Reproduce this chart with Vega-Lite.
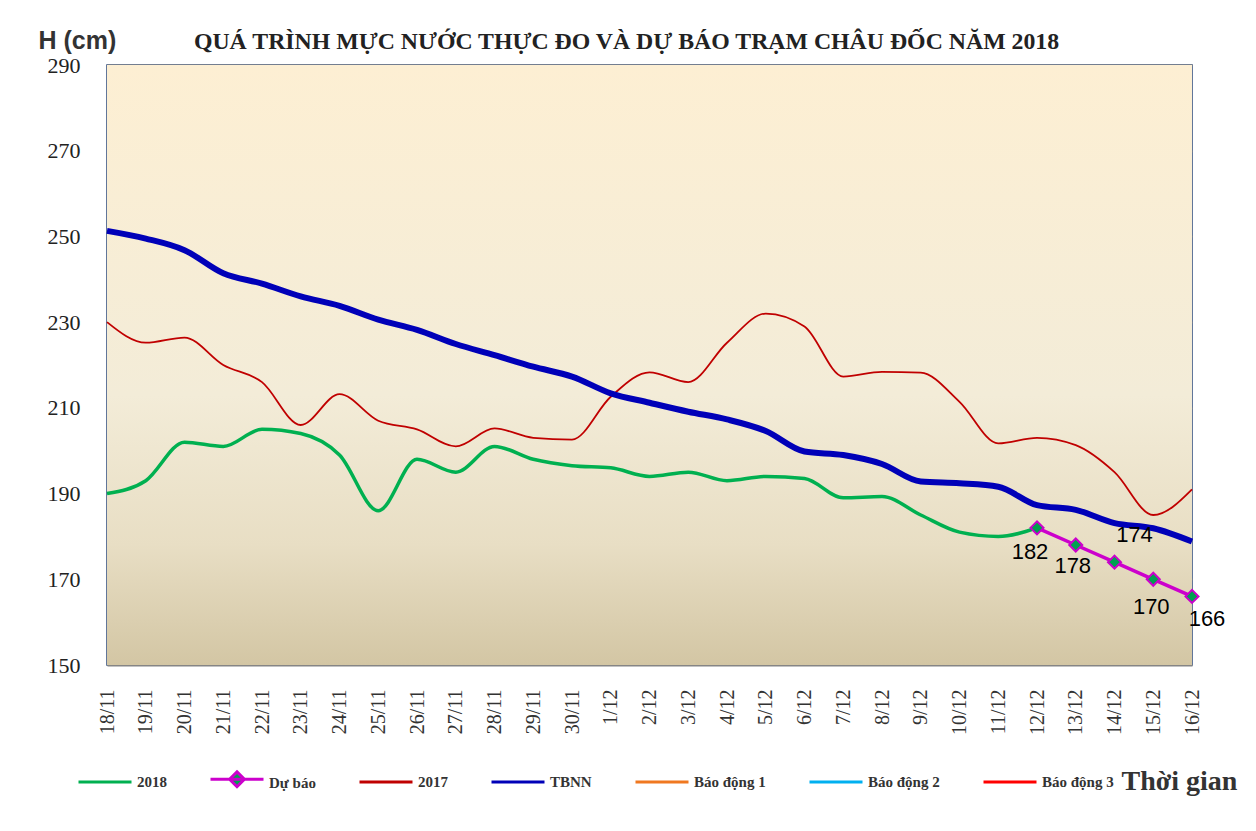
{
  "$schema": "https://vega.github.io/schema/vega-lite/v6.json",
  "width": 1085,
  "height": 600,
  "autosize": {"type": "none"},
  "padding": {"left": 107, "top": 65, "right": 64, "bottom": 166},
  "background": "#ffffff",
  "title": {
    "text": "QUÁ TRÌNH MỰC NƯỚC THỰC ĐO VÀ DỰ BÁO TRẠM CHÂU ĐỐC NĂM 2018",
    "font": "Liberation Serif",
    "fontSize": 23.8,
    "fontWeight": "bold",
    "color": "#222222",
    "anchor": "middle",
    "frame": "group",
    "dx": -23,
    "baseline": "alphabetic",
    "offset": -45
  },
  "config": {
    "view": {"stroke": "#2E4A7A", "strokeWidth": 1.5},
    "axis": {"domain": false, "ticks": false}
  },
  "datasets": {
    "main": [
      {"date": "18/11", "series": "2018", "value": 190},
      {"date": "19/11", "series": "2018", "value": 193},
      {"date": "20/11", "series": "2018", "value": 202},
      {"date": "21/11", "series": "2018", "value": 201},
      {"date": "22/11", "series": "2018", "value": 205},
      {"date": "23/11", "series": "2018", "value": 204},
      {"date": "24/11", "series": "2018", "value": 199},
      {"date": "25/11", "series": "2018", "value": 186},
      {"date": "26/11", "series": "2018", "value": 198},
      {"date": "27/11", "series": "2018", "value": 195},
      {"date": "28/11", "series": "2018", "value": 201},
      {"date": "29/11", "series": "2018", "value": 198},
      {"date": "30/11", "series": "2018", "value": 196.5},
      {"date": "1/12", "series": "2018", "value": 196},
      {"date": "2/12", "series": "2018", "value": 194},
      {"date": "3/12", "series": "2018", "value": 195},
      {"date": "4/12", "series": "2018", "value": 193},
      {"date": "5/12", "series": "2018", "value": 194},
      {"date": "6/12", "series": "2018", "value": 193.5},
      {"date": "7/12", "series": "2018", "value": 189},
      {"date": "8/12", "series": "2018", "value": 189.3},
      {"date": "9/12", "series": "2018", "value": 185},
      {"date": "10/12", "series": "2018", "value": 181},
      {"date": "11/12", "series": "2018", "value": 180},
      {"date": "12/12", "series": "2018", "value": 182},
      {"date": "12/12", "series": "Dự báo", "value": 182},
      {"date": "13/12", "series": "Dự báo", "value": 178},
      {"date": "14/12", "series": "Dự báo", "value": 174},
      {"date": "15/12", "series": "Dự báo", "value": 170},
      {"date": "16/12", "series": "Dự báo", "value": 166},
      {"date": "18/11", "series": "2017", "value": 230},
      {"date": "19/11", "series": "2017", "value": 225.2},
      {"date": "20/11", "series": "2017", "value": 226.4},
      {"date": "21/11", "series": "2017", "value": 220},
      {"date": "22/11", "series": "2017", "value": 216},
      {"date": "23/11", "series": "2017", "value": 206},
      {"date": "24/11", "series": "2017", "value": 213.2},
      {"date": "25/11", "series": "2017", "value": 207},
      {"date": "26/11", "series": "2017", "value": 205},
      {"date": "27/11", "series": "2017", "value": 201},
      {"date": "28/11", "series": "2017", "value": 205.2},
      {"date": "29/11", "series": "2017", "value": 203},
      {"date": "30/11", "series": "2017", "value": 202.6},
      {"date": "1/12", "series": "2017", "value": 212.6},
      {"date": "2/12", "series": "2017", "value": 218.3},
      {"date": "3/12", "series": "2017", "value": 216},
      {"date": "4/12", "series": "2017", "value": 225.2},
      {"date": "5/12", "series": "2017", "value": 232},
      {"date": "6/12", "series": "2017", "value": 229},
      {"date": "7/12", "series": "2017", "value": 217.3},
      {"date": "8/12", "series": "2017", "value": 218.4},
      {"date": "9/12", "series": "2017", "value": 218.2},
      {"date": "10/12", "series": "2017", "value": 211.4},
      {"date": "11/12", "series": "2017", "value": 201.7},
      {"date": "12/12", "series": "2017", "value": 203},
      {"date": "13/12", "series": "2017", "value": 201.3},
      {"date": "14/12", "series": "2017", "value": 195},
      {"date": "15/12", "series": "2017", "value": 185},
      {"date": "16/12", "series": "2017", "value": 191},
      {"date": "18/11", "series": "TBNN", "value": 251.3},
      {"date": "19/11", "series": "TBNN", "value": 249.5},
      {"date": "20/11", "series": "TBNN", "value": 246.8},
      {"date": "21/11", "series": "TBNN", "value": 241.4},
      {"date": "22/11", "series": "TBNN", "value": 239},
      {"date": "23/11", "series": "TBNN", "value": 236},
      {"date": "24/11", "series": "TBNN", "value": 233.8},
      {"date": "25/11", "series": "TBNN", "value": 230.6},
      {"date": "26/11", "series": "TBNN", "value": 228.2},
      {"date": "27/11", "series": "TBNN", "value": 224.9},
      {"date": "28/11", "series": "TBNN", "value": 222.3},
      {"date": "29/11", "series": "TBNN", "value": 219.6},
      {"date": "30/11", "series": "TBNN", "value": 217.3},
      {"date": "1/12", "series": "TBNN", "value": 213.4},
      {"date": "2/12", "series": "TBNN", "value": 211.2},
      {"date": "3/12", "series": "TBNN", "value": 209.1},
      {"date": "4/12", "series": "TBNN", "value": 207.3},
      {"date": "5/12", "series": "TBNN", "value": 204.6},
      {"date": "6/12", "series": "TBNN", "value": 199.8},
      {"date": "7/12", "series": "TBNN", "value": 199},
      {"date": "8/12", "series": "TBNN", "value": 196.9},
      {"date": "9/12", "series": "TBNN", "value": 192.8},
      {"date": "10/12", "series": "TBNN", "value": 192.4},
      {"date": "11/12", "series": "TBNN", "value": 191.6},
      {"date": "12/12", "series": "TBNN", "value": 187.3},
      {"date": "13/12", "series": "TBNN", "value": 186.2},
      {"date": "14/12", "series": "TBNN", "value": 183.1},
      {"date": "15/12", "series": "TBNN", "value": 181.9},
      {"date": "16/12", "series": "TBNN", "value": 178.8}
    ]
  },
  "data": {"name": "main"},
  "encoding": {
    "x": {
      "field": "date",
      "type": "ordinal",
      "scale": {
        "type": "point",
        "padding": 0,
        "domain": ["18/11","19/11","20/11","21/11","22/11","23/11","24/11","25/11","26/11","27/11","28/11","29/11","30/11","1/12","2/12","3/12","4/12","5/12","6/12","7/12","8/12","9/12","10/12","11/12","12/12","13/12","14/12","15/12","16/12"]
      },
      "axis": {
        "title": "Thời gian",
        "titleFont": "Liberation Serif",
        "titleFontSize": 28,
        "titleFontWeight": "bold",
        "titleColor": "#333333",
        "titleAngle": 0,
        "titleAlign": "left",
        "titleBaseline": "middle",
        "titleX": 1014,
        "titleY": 116,
        "labelAngle": -90,
        "labelFont": "Liberation Serif",
        "labelFontSize": 20,
        "labelColor": "#333333",
        "labelPadding": 24,
        "labelOverlap": false,
        "grid": false
      }
    },
    "y": {
      "field": "value",
      "type": "quantitative",
      "scale": {"domain": [150, 290], "nice": false, "zero": false},
      "axis": {
        "values": [150, 170, 190, 210, 230, 250, 270, 290],
        "title": "H (cm)",
        "titleFont": "Liberation Sans",
        "titleFontSize": 25,
        "titleFontWeight": "bold",
        "titleColor": "#333333",
        "titleAngle": 0,
        "titleAlign": "left",
        "titleBaseline": "middle",
        "titleX": -69,
        "titleY": -25,
        "labelFont": "Liberation Serif",
        "labelFontSize": 22,
        "labelColor": "#222222",
        "labelPadding": 27,
        "grid": true,
        "gridColor": "#858585",
        "gridWidth": 2
      }
    },
    "color": {
      "field": "series",
      "type": "nominal",
      "scale": {
        "domain": ["2018", "Dự báo", "2017", "TBNN", "Báo động 1", "Báo động 2", "Báo động 3"],
        "range": ["#00B050", "#CC00CC", "#C00000", "#0000B8", "#F07820", "#00B0F0", "#FF0000"]
      },
      "legend": {
        "title": null,
        "orient": "none",
        "direction": "horizontal",
        "legendX": -30,
        "legendY": 686,
        "symbolType": "stroke",
        "symbolSize": 2809,
        "symbolStrokeWidth": 3,
        "labelFont": "Liberation Serif",
        "labelFontSize": 15,
        "labelFontWeight": "bold",
        "labelColor": "#333333",
        "labelOffset": 4,
        "columnPadding": 37,
        "labelLimit": 300,
        "encode": {
          "symbols": {
            "update": {
              "shape": {"signal": "datum.value === 'Dự báo' ? 'M-1,0L1,0M0,-0.28L0.28,0L0,0.28L-0.28,0Z' : 'stroke'"},
              "fill": {"signal": "datum.value === 'Dự báo' ? '#00A050' : 'transparent'"},
              "strokeWidth": {"value": 3},
              "opacity": {"value": 1}
            }
          },
          "labels": {
            "update": {
              "dy": {"signal": "datum.value === 'Dự báo' ? 4 : 0"}
            }
          }
        }
      }
    }
  },
  "layer": [
    {
      "data": {"values": [{}]},
      "mark": {
        "type": "rect",
        "fill": {
          "x1": 0, "y1": 0, "x2": 0, "y2": 1,
          "gradient": "linear",
          "stops": [
            {"offset": 0, "color": "#FDEFD3"},
            {"offset": 0.55, "color": "#F3ECD8"},
            {"offset": 0.8, "color": "#E8DEC4"},
            {"offset": 1, "color": "#D3C6A4"}
          ]
        }
      },
      "encoding": {"x": null, "y": null, "color": null}
    },
    {
      "transform": [{"filter": "datum.series === '2018'"}],
      "mark": {"type": "line", "interpolate": "monotone", "strokeWidth": 3.5}
    },
    {
      "transform": [{"filter": "datum.series === '2017'"}],
      "mark": {"type": "line", "interpolate": "monotone", "strokeWidth": 1.8}
    },
    {
      "transform": [{"filter": "datum.series === 'TBNN'"}],
      "mark": {"type": "line", "interpolate": "monotone", "strokeWidth": 6}
    },
    {
      "transform": [{"filter": "datum.series === 'Dự báo'"}],
      "mark": {"type": "line", "strokeWidth": 3.5}
    },
    {
      "transform": [{"filter": "datum.series === 'Dự báo'"}],
      "mark": {"type": "point", "shape": "diamond", "size": 170, "filled": true, "fill": "#00A050", "stroke": "#CC00CC", "strokeWidth": 2, "opacity": 1},
      "encoding": {"color": null}
    },
    {
      "transform": [{"filter": "datum.date === '12/12' && datum.series === 'Dự báo'"}],
      "mark": {"type": "text", "font": "Liberation Sans", "fontSize": 22, "color": "#000000", "dx": -7, "dy": 24},
      "encoding": {"text": {"field": "value"}, "color": null}
    },
    {
      "transform": [{"filter": "datum.date === '13/12' && datum.series === 'Dự báo'"}],
      "mark": {"type": "text", "font": "Liberation Sans", "fontSize": 22, "color": "#000000", "dx": -3, "dy": 21},
      "encoding": {"text": {"field": "value"}, "color": null}
    },
    {
      "transform": [{"filter": "datum.date === '14/12' && datum.series === 'Dự báo'"}],
      "mark": {"type": "text", "font": "Liberation Sans", "fontSize": 22, "color": "#000000", "dx": 20, "dy": -27},
      "encoding": {"text": {"field": "value"}, "color": null}
    },
    {
      "transform": [{"filter": "datum.date === '15/12' && datum.series === 'Dự báo'"}],
      "mark": {"type": "text", "font": "Liberation Sans", "fontSize": 22, "color": "#000000", "dx": -2, "dy": 28},
      "encoding": {"text": {"field": "value"}, "color": null}
    },
    {
      "transform": [{"filter": "datum.date === '16/12' && datum.series === 'Dự báo'"}],
      "mark": {"type": "text", "font": "Liberation Sans", "fontSize": 22, "color": "#000000", "dx": 15, "dy": 23},
      "encoding": {"text": {"field": "value"}, "color": null}
    }
  ]
}
